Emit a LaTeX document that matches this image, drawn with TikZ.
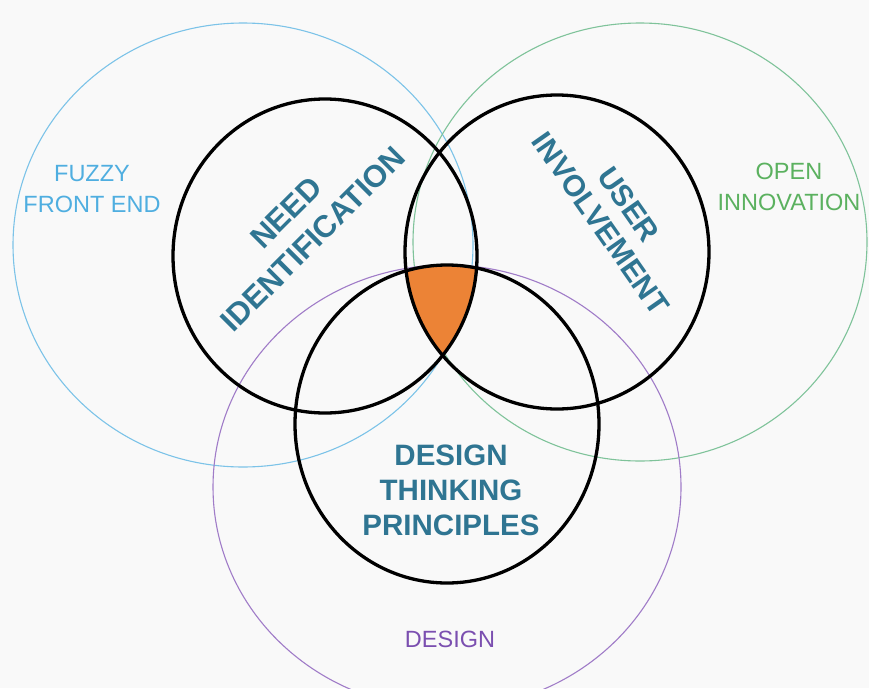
\documentclass[tikz,border=0pt]{standalone}
\usepackage{fontspec}
\setmainfont{Liberation Sans}
\usepackage{tikz}

\definecolor{fuzzyline}{RGB}{124,195,232}
\definecolor{fuzzytext}{RGB}{79,174,224}
\definecolor{openline}{RGB}{127,195,154}
\definecolor{opentext}{RGB}{91,177,95}
\definecolor{designline}{RGB}{160,124,200}
\definecolor{designtext}{RGB}{123,79,176}
\definecolor{keytext}{RGB}{47,117,146}
\definecolor{core}{RGB}{236,131,54}
\definecolor{paper}{RGB}{249,249,249}

\begin{document}
\begin{tikzpicture}[x=1pt,y=-1pt,
   field/.style={line width=1.1pt},
   ring/.style={draw=black,line width=3.3pt},
   area/.style={align=center,font=\fontsize{23.5}{31}\selectfont},
   key/.style={align=center,text=keytext,font=\bfseries\fontsize{29.5}{35}\selectfont}
   ]

  % -- page
  \fill[paper] (0,0) rectangle (869,688);
  \useasboundingbox (0,0) rectangle (869,688);

  % -- outer fields
  \draw[field,fuzzyline] (243,245) ellipse [x radius=230, y radius=222];
  \draw[field,openline] (640,242) ellipse [x radius=227, y radius=219];
  \draw[field,designline] (447,487) ellipse [x radius=234, y radius=222];

  % -- common core
  \begin{scope}
    \clip (325,256) ellipse [x radius=152, y radius=157];
    \clip (557,252) ellipse [x radius=152, y radius=157];
    \fill[core] (447,424) ellipse [x radius=152, y radius=159];
  \end{scope}

  % -- inner rings
  \draw[ring] (325,256) ellipse [x radius=152, y radius=157];
  \draw[ring] (557,252) ellipse [x radius=152, y radius=157];
  \draw[ring] (447,424) ellipse [x radius=152, y radius=159];

  % -- field labels
  \node[area,text=fuzzytext] at (92,189.5) (fuzzy) {FUZZY\\FRONT END};
  \node[area,text=opentext] at (789,187) (open) {OPEN\\INNOVATION};
  \node[area,text=designtext] at (450,639.5) (design) {DESIGN};

  % -- ring labels
  \node[key,rotate=45,font=\bfseries\fontsize{31}{38}\selectfont] at (299.5,226) (need) {NEED\\IDENTIFICATION};
  \node[key,rotate=-55,font=\bfseries\fontsize{30}{34}\selectfont] at (614.7,214) (user) {USER\\INVOLVEMENT};
  \node[key] at (451,490) (dtp) {DESIGN\\THINKING\\PRINCIPLES};
\end{tikzpicture}
\end{document}
